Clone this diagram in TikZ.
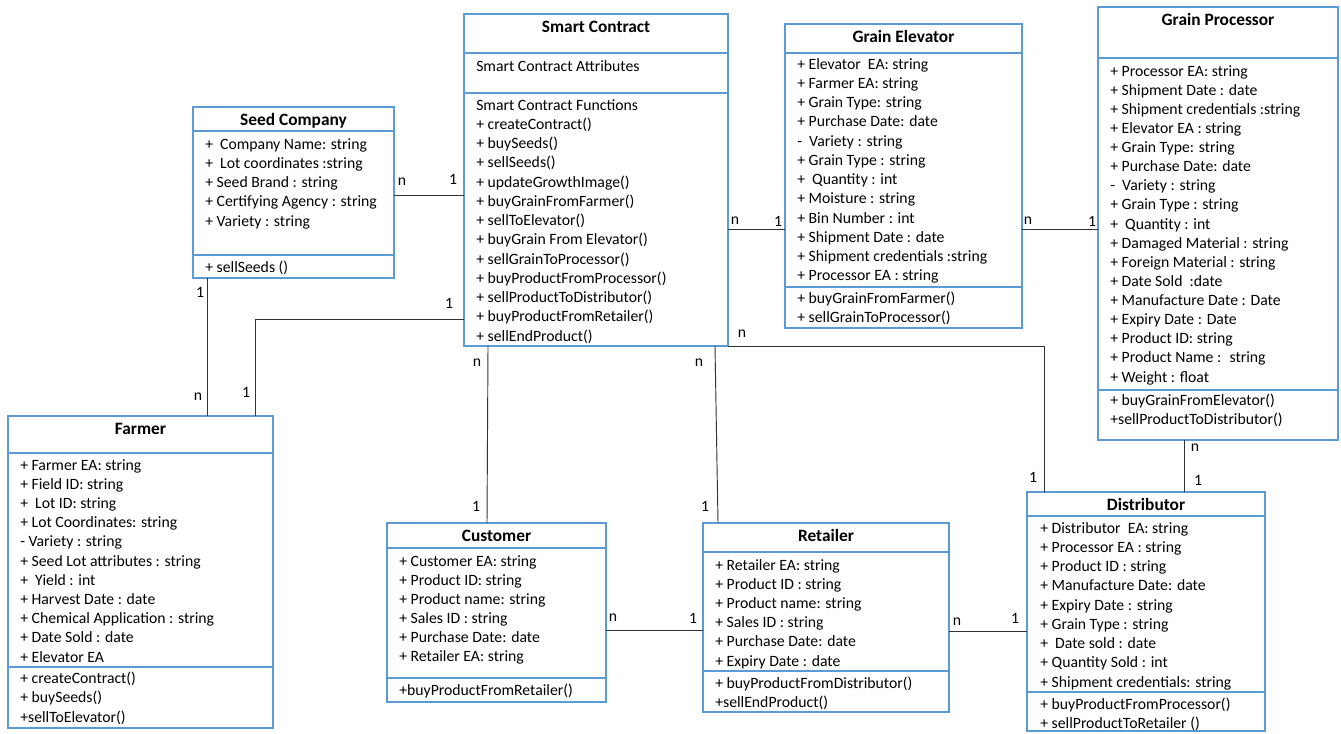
\documentclass[tikz,border=0pt]{standalone}
\usepackage{fontspec}
\setmainfont{Carlito}
\usetikzlibrary{fit, calc}
\definecolor{umlblue}{RGB}{91,155,213}
\tikzset{
	cls/.style={
		draw=umlblue,
		line width=1.8pt,
		inner sep=0pt,
		outer sep=0pt
	},
	sep/.style={draw=umlblue, line width=1.8pt},
	ttl/.style={font=\fontsize{13}{15}\selectfont\bfseries, anchor=base, inner sep=0pt},
	txt/.style={font=\fontsize{11.8}{14}\selectfont, anchor=base west, inner sep=0pt},
	link/.style={draw=black!80, line width=0.7pt},
	mult/.style={font=\fontsize{11.8}{14}\selectfont, inner sep=0pt}
}

\begin{document}
\begin{tikzpicture}[x=0.75pt, y=-0.75pt]
\useasboundingbox (0,0) rectangle (1341,733);

% class boxes
\node[cls, fit={(193,107) (394,278)}] (seed) {};
\node[cls, fit={(464,14) (728,346)}] (sc) {};
\node[cls, fit={(785,24) (1022,328)}] (elev) {};
\node[cls, fit={(1098,7) (1338,440)}] (proc) {};
\node[cls, fit={(8,416) (273,728)}] (farmer) {};
\node[cls, fit={(387,523) (606,702)}] (cust) {};
\node[cls, fit={(703,523) (949,712)}] (ret) {};
\node[cls, fit={(1027,492) (1265,731)}] (dist) {};

% compartments
\foreach \b/\ya/\yb in {seed/131/255, sc/53/93, elev/53/287, proc/58/390, farmer/453/667, cust/548/678, ret/552/671, dist/516/692} {
	\draw[sep] (\b.west |- 0,\ya) -- (\b.east |- 0,\ya);
	\draw[sep] (\b.west |- 0,\yb) -- (\b.east |- 0,\yb);
}

% titles
\node[ttl] (seedT) at ($(seed.north)+(0,18)$) {Seed Company};
\node[ttl] (scT) at ($(sc.north)+(0,18)$) {Smart Contract};
\node[ttl] (elevT) at ($(elev.north)+(0,18)$) {Grain Elevator};
\node[ttl] (procT) at ($(proc.north)+(0,18)$) {Grain Processor};
\node[ttl] (farmerT) at ($(farmer.north)+(0,18)$) {Farmer};
\node[ttl] (custT) at ($(cust.north)+(0,18)$) {Customer};
\node[ttl] (retT) at ($(ret.north)+(0,18)$) {Retailer};
\node[ttl] (distT) at ($(dist.north)+(0,18)$) {Distributor};

% Seed Company
\foreach \t [count=\i from 0] in {{+~ Company Name: string}, {+~ Lot coordinates :string}, {+ Seed Brand : string}, {+ Certifying Agency : string}, {+ Variety : string}}
	\node[txt] (seedA\i) at ($(seed.west |- 0,149)+(12,\i*19.3)$) {\t};
\node[txt] (seedM0) at ($(seed.west |- 0,272)+(12,0)$) {+ sellSeeds ()};

% Smart Contract
\node[txt] (scA0) at ($(sc.west |- 0,71)+(12,0)$) {Smart Contract Attributes};
\foreach \t [count=\i from 0] in {Smart Contract Functions, + createContract(), + buySeeds(), + sellSeeds(), + updateGrowthImage(), + buyGrainFromFarmer(), + sellToElevator(), + buyGrain From Elevator(), + sellGrainToProcessor(), + buyProductFromProcessor(), + sellProductToDistributor(), + buyProductFromRetailer(), + sellEndProduct()}
	\node[txt] (scM\i) at ($(sc.west |- 0,110)+(12,\i*19.25)$) {\t};

% Grain Elevator
\foreach \t [count=\i from 0] in {+ Elevator~ EA: string, + Farmer EA: string, + Grain Type: string, + Purchase Date: date, -~ Variety : string, + Grain Type : string, +~ Quantity : int, + Moisture : string, + Bin Number : int, + Shipment Date : date, + Shipment credentials :string, + Processor EA : string}
	\node[txt] (elevA\i) at ($(elev.west |- 0,69)+(12,\i*19.27)$) {\t};
\foreach \t [count=\i from 0] in {+ buyGrainFromFarmer(), + sellGrainToProcessor()}
	\node[txt] (elevM\i) at ($(elev.west |- 0,303)+(12,\i*19.25)$) {\t};

% Grain Processor
\foreach \t [count=\i from 0] in {+ Processor EA: string, + Shipment Date : date, + Shipment credentials :string, + Elevator EA : string, + Grain Type: string, + Purchase Date: date, -~ Variety : string, + Grain Type : string, +~ Quantity : int, + Damaged Material : string, + Foreign Material : string, + Date Sold~ :date, + Manufacture Date : Date, + Expiry Date : Date, + Product ID: string, + Product Name :~ string, + Weight : float}
	\node[txt] (procA\i) at ($(proc.west |- 0,76)+(12,\i*19.13)$) {\t};
\foreach \t [count=\i from 0] in {+ buyGrainFromElevator(), +sellProductToDistributor()}
	\node[txt] (procM\i) at ($(proc.west |- 0,405)+(12,\i*19.25)$) {\t};

% Farmer
\foreach \t [count=\i from 0] in {+ Farmer EA: string, + Field ID: string, +~ Lot ID: string, + Lot Coordinates: string, - Variety : string, + Seed Lot attributes : string, +~ Yield : int, + Harvest Date : date, + Chemical Application : string, + Date Sold : date, + Elevator EA}
	\node[txt] (farmerA\i) at ($(farmer.west |- 0,470)+(12,\i*19.2)$) {\t};
\foreach \t [count=\i from 0] in {+ createContract(), + buySeeds(), +sellToElevator()}
	\node[txt] (farmerM\i) at ($(farmer.west |- 0,683)+(12,\i*19.5)$) {\t};

% Customer
\foreach \t [count=\i from 0] in {+ Customer EA: string, + Product ID: string, + Product name: string, + Sales ID : string, + Purchase Date: date, + Retailer EA: string}
	\node[txt] (custA\i) at ($(cust.west |- 0,566)+(12,\i*19.1)$) {\t};
\node[txt] (custM0) at ($(cust.west |- 0,695)+(12,0)$) {+buyProductFromRetailer()};

% Retailer
\foreach \t [count=\i from 0] in {+ Retailer EA: string, + Product ID : string, + Product name: string, + Sales ID : string, + Purchase Date: date, + Expiry Date : date}
	\node[txt] (retA\i) at ($(ret.west |- 0,570)+(12,\i*19.2)$) {\t};
\foreach \t [count=\i from 0] in {+ buyProductFromDistributor(), +sellEndProduct()}
	\node[txt] (retM\i) at ($(ret.west |- 0,688)+(12,\i*19.25)$) {\t};

% Distributor
\foreach \t [count=\i from 0] in {+ Distributor~ EA: string, + Processor EA : string, + Product ID : string, + Manufacture Date: date, + Expiry Date : string, + Grain Type : string, +~ Date sold : date, + Quantity Sold : int, + Shipment credentials: string}
	\node[txt] (distA\i) at ($(dist.west |- 0,533)+(13,\i*19.25)$) {\t};
\foreach \t [count=\i from 0] in {+ buyProductFromProcessor(), + sellProductToRetailer ()}
	\node[txt] (distM\i) at ($(dist.west |- 0,709)+(13,\i*19.25)$) {\t};

% associations
\draw[link] (seed.east |- 0,195) -- (sc.west |- 0,195);
\draw[link] (seed.south -| 207,0) -- (farmer.north -| 207,0);
\draw[link] (sc.west |- 0,319) -| (farmer.north -| 255,0);
\draw[link] (sc.east |- 0,229) -- (elev.west |- 0,229);
\draw[link] (elev.east |- 0,229) -- (proc.west |- 0,229);
\draw[link] (sc.south -| 488,0) -- (cust.north -| 487,0);
\draw[link] (sc.south -| 715,0) -- (ret.north -| 718,0);
\draw[link] (sc.south east) -| (dist.north -| 1044,0);
\draw[link] (proc.south -| 1184,0) -- (dist.north -| 1184,0);
\draw[link] (cust.east |- 0,630) -- (ret.west |- 0,630);
\draw[link] (ret.east |- 0,631) -- (dist.west |- 0,631);

% multiplicities
\foreach \x/\y/\m [count=\i] in {402/182/n, 453/179/1, 200/292/1, 198/397/n, 449/303/1, 246/392/1, 735/221/n, 778/221/1, 1028/221/n, 1092/221/1, 477/363/n, 476/506/1, 699/363/n, 705/506/1, 742/334/n, 1033/477/1, 1195/448/n, 1198/480/1, 613/618/n, 693/618/1, 957/622/n, 1015/618/1}
	\node[mult] (m\i) at (\x,\y) {\m};
\end{tikzpicture}
\end{document}
